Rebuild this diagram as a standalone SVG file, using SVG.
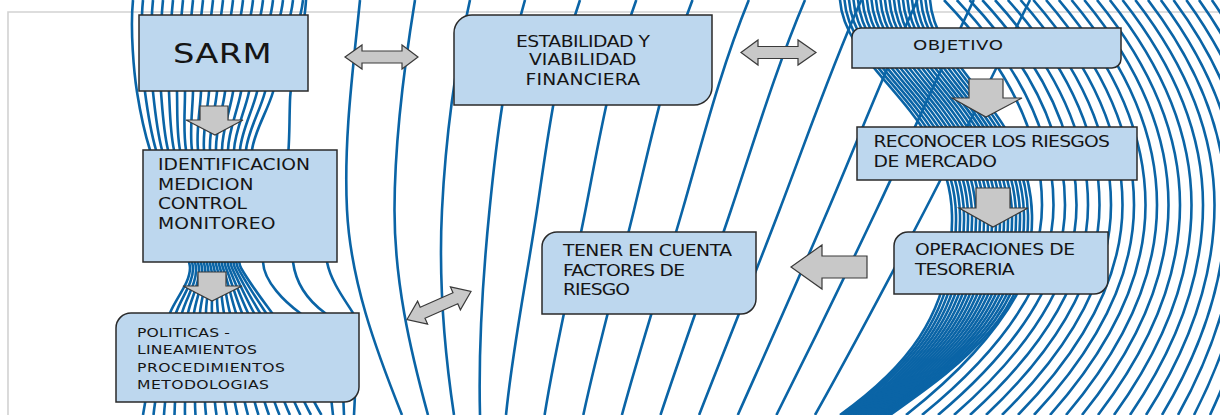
<svg xmlns="http://www.w3.org/2000/svg" width="1220" height="415" viewBox="0 0 1220 415">
<style>
.ln{fill:none;stroke:#0a64a6;stroke-width:2.6}
.box{fill:#bdd7ee;stroke:#2a2a2a;stroke-width:1.5}
.arr{fill:#c8c8c8;stroke:#3a3a3a;stroke-width:1.2}
.t{font-family:"DejaVu Sans","Liberation Sans",sans-serif;fill:#151515;font-size:15px}
.s{font-size:12.5px}
</style>
<rect width="1220" height="415" fill="#ffffff"/>
<path d="M8,415 V12 H1220" fill="none" stroke="#d2d2d2" stroke-width="1.6"/>
<g id="background">
<g id="left-bundle">
<path class="ln" d="M133,0 C130,30 134,73 137,92 S144,131 150,150 S190,253 190,268 S176,298 170,313 S148,381 143,415"/>
<path class="ln" d="M143,0 C140,30 142.5,73 145,92 S150.5,131 156,150 S192.5,253 193,268 S181,298 176,313 S157,381 153.5,415"/>
<path class="ln" d="M153,0 C150,30 151,73 153,92 S157,131 162,150 S195,253 196,268 S186,298 182,313 S166,381 164,415"/>
<path class="ln" d="M163,0 C160,30 159.5,73 161,92 S163.5,131 168,150 S197.5,253 199,268 S191,298 188,313 S175,381 174.5,415"/>
<path class="ln" d="M173,0 C170,30 168,73 169,92 S170,131 174,150 S200,253 202,268 S196,298 194,313 S184,381 185,415"/>
<path class="ln" d="M183,0 C180,30 176.5,73 177,92 S176.5,131 180,150 S202.5,253 205,268 S201,298 200,313 S193,381 195.5,415"/>
<path class="ln" d="M193,0 C190,30 185,73 185,92 S183,131 186,150 S205,253 208,268 S206,298 206,313 S202,381 206,415"/>
<path class="ln" d="M203,0 C200,30 193.5,73 193,92 S189.5,131 192,150 S207.5,253 211,268 S211,298 212,313 S211,381 216.5,415"/>
<path class="ln" d="M213,0 C210,30 202,73 201,92 S196,131 198,150 S210,253 214,268 S216,298 218,313 S220,381 227,415"/>
<path class="ln" d="M223,0 C220,30 210.5,73 209,92 S202.5,131 204,150 S212.5,253 217,268 S221,298 224,313 S229,381 237.5,415"/>
<path class="ln" d="M233,0 C230,30 219,73 217,92 S209,131 210,150 S215,253 220,268 S226,298 230,313 S238,381 248,415"/>
<path class="ln" d="M243,0 C240,30 227.5,73 225,92 S215.5,131 216,150 S217.5,253 223,268 S231,298 236,313 S247,381 258.5,415"/>
<path class="ln" d="M253,0 C250,30 236,73 233,92 S222,131 222,150 S220,253 226,268 S236,298 242,313 S256,381 269,415"/>
<path class="ln" d="M263,0 C260,30 244.5,73 241,92 S228.5,131 228,150 S222.5,253 229,268 S241,298 248,313 S265,381 279.5,415"/>
<path class="ln" d="M273,0 C270,30 253,73 249,92 S235,131 234,150 S225,253 232,268 S246,298 254,313 S274,381 290,415"/>
<path class="ln" d="M283,0 C280,30 261.5,73 257,92 S241.5,131 240,150 S227.5,253 235,268 S251,298 260,313 S283,381 300.5,415"/>
<path class="ln" d="M293,0 C290,30 270,73 265,92 S248,131 246,150 S230,253 238,268 S256,298 266,313 S292,381 311,415"/>
<path class="ln" d="M303,0 C300,30 278.5,73 273,92 S254.5,131 252,150 S232.5,253 241,268 S261,298 272,313 S301,381 321.5,415"/>
<path class="ln" d="M306,0 C304,40 291,70 290,100 C289,130 290,150 286,175 C278,215 262,240 263,262 C264,282 285,302 300,313 C318,328 330,380 333,415"/>
<path class="ln" d="M255,170 C280,200 290,240 293,262 C296,285 310,302 325,313 C338,325 343,380 344,415"/>
<path class="ln" d="M300,170 C315,200 322,240 327,262 C331,282 345,300 353,313 C357,330 356,380 354,415"/>
</g>
<g id="middle-lines">
<path class="ln" d="M360,0 C353,70 343.5,140 347,210 S374.8,347 402,415"/>
<path class="ln" d="M415,0 C403.6,70 394.5,140 394.5,210 S409.3,347 428,415"/>
<path class="ln" d="M470,0 C454.2,70 445.5,140 442,210 S443.8,347 454,415"/>
<path class="ln" d="M525,0 C504.8,70 496.5,140 489.5,210 S478.3,347 480,415"/>
<path class="ln" d="M580,0 C555.5,70 547.5,140 537,210 S512.8,347 506,415"/>
<path class="ln" d="M636.3,0 C610.4,70 599.2,140 585.5,210 S555.3,347 544.6,415"/>
<path class="ln" d="M692.5,0 C665.4,70 651,140 634,210 S597.9,347 583.3,415"/>
<path class="ln" d="M748.8,0 C720.3,70 702.7,140 682.5,210 S640.4,347 621.9,415"/>
<path class="ln" d="M805,0 C775.3,70 754.5,140 731,210 S683,347 660.5,415"/>
<path class="ln" d="M861.3,0 C830.2,70 806.2,140 779.5,210 S725.5,347 699.1,415"/>
<path class="ln" d="M917.5,0 C885.1,70 857.9,140 828,210 S768,347 737.8,415"/>
<path class="ln" d="M973.8,0 C940.1,70 909.7,140 876.5,210 S810.6,347 776.4,415"/>
<path class="ln" d="M1030,0 C995,70 961.4,140 925,210 S853.1,347 815,415"/>
</g>
<g id="band-lines">
<path class="ln" d="M840,0 C845,70 950,112 952,215 S900,372 840,415"/>
<path class="ln" d="M844.5,0 C849.5,70 954,112 956,215 S902.5,372 842.5,415"/>
<path class="ln" d="M849,0 C854,70 958,112 960,215 S905,372 845,415"/>
<path class="ln" d="M853.5,0 C858.5,70 962,112 964,215 S907.5,372 847.5,415"/>
<path class="ln" d="M858,0 C863,70 966,112 968,215 S910,372 850,415"/>
<path class="ln" d="M862.5,0 C867.5,70 970,112 972,215 S912.5,372 852.5,415"/>
<path class="ln" d="M867,0 C872,70 974,112 976,215 S915,372 855,415"/>
<path class="ln" d="M871.5,0 C876.5,70 978,112 980,215 S917.5,372 857.5,415"/>
<path class="ln" d="M876,0 C881,70 982,112 984,215 S920,372 860,415"/>
<path class="ln" d="M880.5,0 C885.5,70 986,112 988,215 S922.5,372 862.5,415"/>
<path class="ln" d="M885,0 C890,70 990,112 992,215 S925,372 865,415"/>
<path class="ln" d="M889.5,0 C894.5,70 994,112 996,215 S927.5,372 867.5,415"/>
<path class="ln" d="M894,0 C899,70 998,112 1000,215 S930,372 870,415"/>
<path class="ln" d="M898.5,0 C903.5,70 1002,112 1004,215 S932.5,372 872.5,415"/>
<path class="ln" d="M903,0 C908,70 1006,112 1008,215 S935,372 875,415"/>
<path class="ln" d="M907.5,0 C912.5,70 1010,112 1012,215 S937.5,372 877.5,415"/>
<path class="ln" d="M912,0 C917,70 1014,112 1016,215 S940,372 880,415"/>
<path class="ln" d="M916.5,0 C921.5,70 1018,112 1020,215 S942.5,372 882.5,415"/>
<path class="ln" d="M921,0 C926,70 1022,112 1024,215 S945,372 885,415"/>
<path class="ln" d="M925.5,0 C930.5,70 1026,112 1028,215 S947.5,372 887.5,415"/>
<path class="ln" d="M930,0 C935,70 1030,112 1032,215 S950,372 890,415"/>
</g>
<g id="right-arcs">
<path class="ln" d="M944,0 Q1042,102 1042,205 T906,415"/>
<path class="ln" d="M956.8,0 Q1053.5,102 1053.5,205 T922,415"/>
<path class="ln" d="M969.5,0 Q1065,102 1065,205 T938,415"/>
<path class="ln" d="M982.3,0 Q1076.5,102 1076.5,205 T954,415"/>
<path class="ln" d="M995,0 Q1088,102 1088,205 T970,415"/>
<path class="ln" d="M1007.8,0 Q1099.5,102 1099.5,205 T986,415"/>
<path class="ln" d="M1020.5,0 Q1111,102 1111,205 T1002,415"/>
<path class="ln" d="M1033.3,0 Q1122.5,102 1122.5,205 T1018,415"/>
<path class="ln" d="M1046,0 Q1134,102 1134,205 T1034,415"/>
<path class="ln" d="M1058.8,0 Q1145.5,102 1145.5,205 T1050,415"/>
<path class="ln" d="M1071.5,0 Q1157,102 1157,205 T1066,415"/>
<path class="ln" d="M1084.3,0 Q1168.5,102 1168.5,205 T1082,415"/>
<path class="ln" d="M1097,0 Q1180,102 1180,205 T1098,415"/>
<path class="ln" d="M1109.8,0 Q1191.5,102 1191.5,205 T1114,415"/>
<path class="ln" d="M1122.5,0 Q1203,102 1203,205 T1130,415"/>
<path class="ln" d="M1135.3,0 Q1214.5,102 1214.5,205 T1146,415"/>
<path class="ln" d="M1148,0 Q1226,102 1226,205 T1162,415"/>
<path class="ln" d="M1160.8,0 Q1237.5,102 1237.5,205 T1178,415"/>
<path class="ln" d="M1173.5,0 Q1249,102 1249,205 T1194,415"/>
<path class="ln" d="M1186.3,0 Q1260.5,102 1260.5,205 T1210,415"/>
<path class="ln" d="M1199,0 Q1272,102 1272,205 T1226,415"/>
<path class="ln" d="M1211.8,0 Q1283.5,102 1283.5,205 T1242,415"/>
</g>
</g>
<g id="connectors">
<polygon class="arr" points="200,106 228,106 228,120 243,120 215,135 186,120 200,120"/>
<polygon class="arr" points="198,272 226,272 226,286 242,286 212,301 183,286 198,286"/>
<polygon class="arr" points="345,57 362,45 362,51 402,51 402,45 418,57 402,69 402,63 362,63 362,69"/>
<polygon class="arr" points="741,52.5 758,40 758,46.5 798,46.5 798,40 816,52.5 798,65 798,58.5 758,58.5 758,65"/>
<polygon class="arr" points="969,79 1003,79 1003,98 1022,98 986,117 952,98 969,98"/>
<polygon class="arr" points="976,188 1010,188 1010,208 1028,208 993,227 959,208 976,208"/>
<polygon class="arr" points="791,267 822,245 822,256 867,256 867,278 822,278 822,289"/>
<polygon class="arr" points="407,319.5 417.6,301.2 420.2,307.2 453,292.8 450.4,286.9 471,291.5 460.4,309.8 457.8,303.8 425,318.2 427.6,324.1"/>
</g>
<g id="node-sarm">
<rect class="box" x="139" y="15" width="169" height="76"/>
<text class="t" transform="matrix(1.25 0 0 1 173 63)" style="font-size:27px" textLength="78.8" lengthAdjust="spacing">SARM</text>
</g>
<g id="node-identificacion">
<rect class="box" x="143" y="150" width="194" height="112"/>
<text class="t" transform="matrix(1.25 0 0 1 158 170)" textLength="121.6" lengthAdjust="spacing">IDENTIFICACION</text>
<text class="t" transform="matrix(1.25 0 0 1 158 190)" textLength="76.4" lengthAdjust="spacing">MEDICION</text>
<text class="t" transform="matrix(1.25 0 0 1 158 209)" textLength="71.2" lengthAdjust="spacing">CONTROL</text>
<text class="t" transform="matrix(1.25 0 0 1 158 229)" textLength="94" lengthAdjust="spacing">MONITOREO</text>
</g>
<g id="node-politicas">
<path class="box" d="M131,313 H359 V387 A15,15 0 0 1 344,402 H116 V328 A15,15 0 0 1 131,313 Z"/>
<text class="t s" transform="matrix(1.25 0 0 1 137 337)" textLength="74.4" lengthAdjust="spacing">POLITICAS -</text>
<text class="t s" transform="matrix(1.25 0 0 1 137 354)" textLength="96" lengthAdjust="spacing">LINEAMIENTOS</text>
<text class="t s" transform="matrix(1.25 0 0 1 137 372)" textLength="118.4" lengthAdjust="spacing">PROCEDIMIENTOS</text>
<text class="t s" transform="matrix(1.25 0 0 1 137 389)" textLength="105.6" lengthAdjust="spacing">METODOLOGIAS</text>
</g>
<g id="node-estabilidad">
<path class="box" d="M472,15 H712 V87 A18,18 0 0 1 694,105 H454 V33 A18,18 0 0 1 472,15 Z"/>
<text class="t" transform="matrix(1.25 0 0 1 516 47)" textLength="107.2" lengthAdjust="spacing">ESTABILIDAD Y</text>
<text class="t" transform="matrix(1.25 0 0 1 529 65)" textLength="86" lengthAdjust="spacing">VIABILIDAD</text>
<text class="t" transform="matrix(1.25 0 0 1 525.5 85)" textLength="91.6" lengthAdjust="spacing">FINANCIERA</text>
</g>
<g id="node-objetivo">
<path class="box" d="M861,28 H1121 V59 A9,9 0 0 1 1112,68 H852 V37 A9,9 0 0 1 861,28 Z"/>
<text class="t" transform="matrix(1.25 0 0 1 913 50)" style="font-size:14.5px" textLength="72" lengthAdjust="spacing">OBJETIVO</text>
</g>
<g id="node-reconocer">
<rect class="box" x="857" y="127" width="280" height="53"/>
<text class="t" transform="matrix(1.25 0 0 1 873.5 147)" textLength="189.2" lengthAdjust="spacing">RECONOCER LOS RIESGOS</text>
<text class="t" transform="matrix(1.25 0 0 1 873.5 167)" textLength="98.8" lengthAdjust="spacing">DE MERCADO</text>
</g>
<g id="node-operaciones">
<path class="box" d="M908,232 H1108 V280 A14,14 0 0 1 1094,294 H894 V246 A14,14 0 0 1 908,232 Z"/>
<text class="t" transform="matrix(1.25 0 0 1 915 255)" textLength="128" lengthAdjust="spacing">OPERACIONES DE</text>
<text class="t" transform="matrix(1.25 0 0 1 915 275)" textLength="79.6" lengthAdjust="spacing">TESORERIA</text>
</g>
<g id="node-tener">
<path class="box" d="M557,232 H756 V299 A15,15 0 0 1 741,314 H542 V247 A15,15 0 0 1 557,232 Z"/>
<text class="t" transform="matrix(1.25 0 0 1 563 256)" textLength="135.2" lengthAdjust="spacing">TENER EN CUENTA</text>
<text class="t" transform="matrix(1.25 0 0 1 563 276)" textLength="97.6" lengthAdjust="spacing">FACTORES DE</text>
<text class="t" transform="matrix(1.25 0 0 1 563 295)" textLength="53.6" lengthAdjust="spacing">RIESGO</text>
</g>
</svg>
